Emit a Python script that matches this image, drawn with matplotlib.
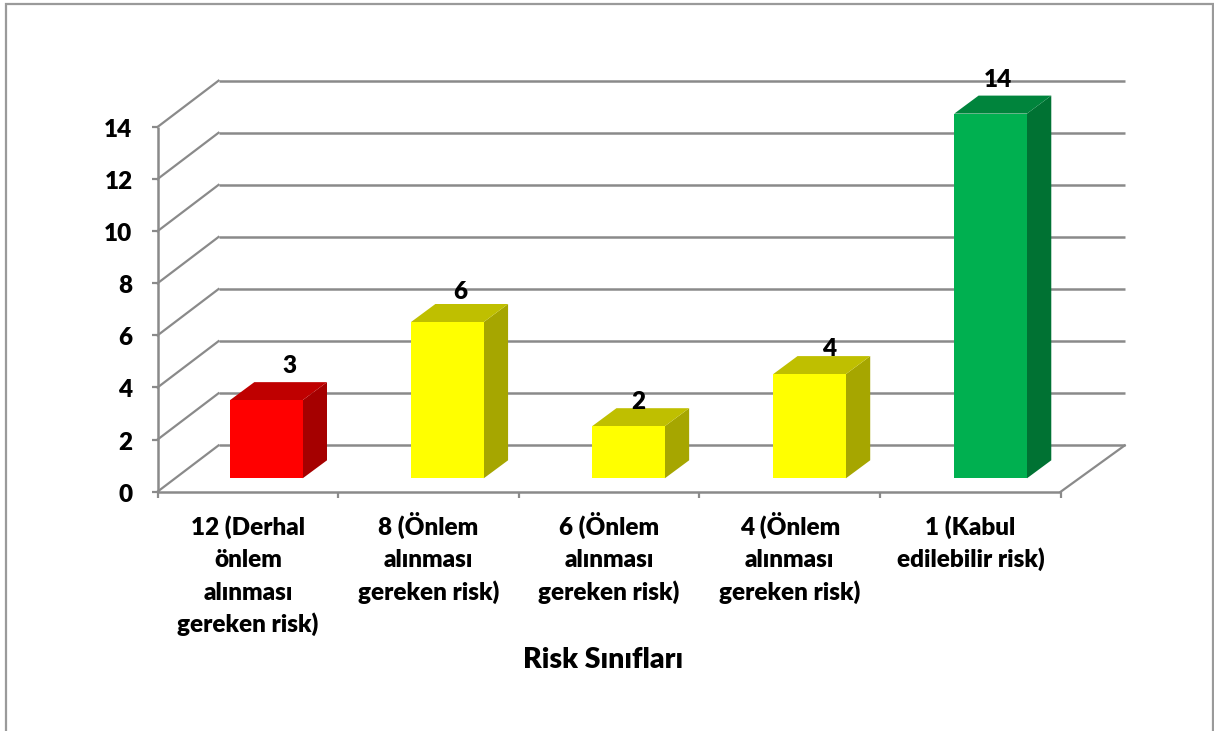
import matplotlib
matplotlib.use('Agg')
import matplotlib.pyplot as plt
from matplotlib.patches import Polygon, Rectangle

plt.rcParams['font.family'] = ['Lato', 'DejaVu Sans']

categories = [['12 (Derhal', 'önlem', 'alınması', 'gereken risk)'],
              ['8 (Önlem', 'alınması', 'gereken risk)'],
              ['6 (Önlem', 'alınması', 'gereken risk)'],
              ['4 (Önlem', 'alınması', 'gereken risk)'],
              ['1 (Kabul', 'edilebilir risk)']]
values = [3, 6, 2, 4, 14]
y_ticks = [0, 2, 4, 6, 8, 10, 12, 14]
x_title = 'Risk Sınıfları'

# (front, top, side) shades for each bar
bar_colors = [('#ff0000', '#bf0000', '#a50000'),
              ('#ffff00', '#bfbf00', '#a6a600'),
              ('#ffff00', '#bfbf00', '#a6a600'),
              ('#ffff00', '#bfbf00', '#a6a600'),
              ('#00b050', '#00843c', '#007233')]

# pixel scale of the plot
W, H = 1214, 731
X0, Y0 = 157.5, 491.7
PX_CAT, PX_VAL = 180.65, 26.05

# 3d look: wall depth and bar depth in data units
WALL_DX, WALL_DY = 61 / PX_CAT, 46.3 / PX_VAL
FLOOR_DX = 64 / PX_CAT
BAR_DX, BAR_DY = 24.3 / PX_CAT, 18 / PX_VAL
BAR_W = 72.7 / PX_CAT
BAR_PITCH = 181.07 / PX_CAT
BAR_LEFT = 72.5 / PX_CAT
BAR_LIFT = 13.4 / PX_VAL

# data label nudges (x in category units, y in value units)
label_dx = [0.13, 0.07, 0.055, 0.11, 0.04]
label_dy = [1.32, 1.17, 0.94, 0.98, 1.29]

GRID = '#8a8a8a'
TXT = '#000000'
FS = 17.5
LINE_STEP = 32.3  # px between category label lines

fig = plt.figure(figsize=(W / 100, H / 100), dpi=100)
ax = fig.add_axes([0, 0, 1, 1])
ax.set_xlim(-X0 / PX_CAT, (W - X0) / PX_CAT)
ax.set_ylim((Y0 - H) / PX_VAL, Y0 / PX_VAL)
ax.axis('off')

# outer chart frame, the bottom edge falls outside the figure
fig.add_artist(Rectangle((6 / W, -0.05), 1206.5 / W, 1.05 - 4 / H, transform=fig.transFigure,
                         fill=False, edgecolor='#9a9a9a', linewidth=1.6))

n = len(categories)

# back wall gridlines, side wall diagonals and left ticks
for t in y_ticks:
    ax.plot([WALL_DX, n + FLOOR_DX], [t + WALL_DY, t + WALL_DY], color=GRID, lw=1.8,
            solid_capstyle='butt', zorder=1)
    ax.plot([0, WALL_DX], [t, t + WALL_DY], color=GRID, lw=1.6, zorder=1)
    ax.plot([-6 / PX_CAT, 0], [t, t], color=GRID, lw=1.6, solid_capstyle='butt', zorder=1)
    ax.text(-25 / PX_CAT, t - 3 / PX_VAL, str(t), ha='right', va='center', fontsize=FS,
            fontweight='heavy', color=TXT, zorder=5)

# front axis lines, floor edge and category ticks
ax.plot([0, 0], [0, y_ticks[-1]], color=GRID, lw=1.8, solid_capstyle='butt', zorder=2)
ax.plot([0, n], [0, 0], color=GRID, lw=1.8, solid_capstyle='butt', zorder=2)
ax.plot([n, n + FLOOR_DX], [0, WALL_DY], color=GRID, lw=1.6, zorder=2)
for i in range(n + 1):
    ax.plot([i, i], [0, -6 / PX_VAL], color=GRID, lw=1.6, solid_capstyle='butt', zorder=2)

# bars
for i, v in enumerate(values):
    left = BAR_LEFT + i * BAR_PITCH
    right = left + BAR_W
    base = BAR_LIFT
    top = base + v
    front, roof, side = bar_colors[i]
    ax.add_patch(Polygon([(right, base), (right + BAR_DX, base + BAR_DY),
                          (right + BAR_DX, top + BAR_DY), (right, top)],
                         facecolor=side, edgecolor='none', zorder=3))
    ax.add_patch(Polygon([(left, top), (right, top), (right + BAR_DX, top + BAR_DY),
                          (left + BAR_DX, top + BAR_DY)],
                         facecolor=roof, edgecolor='none', zorder=3))
    ax.add_patch(Rectangle((left, base), BAR_W, v, facecolor=front, edgecolor='none', zorder=4))
    ax.text(left + BAR_W / 2 + label_dx[i], top + label_dy[i], str(v), ha='center', va='center',
            fontsize=FS, fontweight='heavy', color=TXT, zorder=6)

# category labels, one line at a time so the accents don't move the baselines
for i, lines in enumerate(categories):
    for j, line in enumerate(lines):
        ax.text(i + 0.5, -(535 + j * LINE_STEP - Y0) / PX_VAL, line, ha='center', va='baseline',
                fontsize=FS, fontweight='heavy', color=TXT, zorder=5)

ax.text((603 - X0) / PX_CAT, -(660 - Y0) / PX_VAL, x_title, ha='center', va='center', fontsize=20.5,
        fontweight='heavy', color=TXT, zorder=5)

fig.savefig('out.png', dpi=100, facecolor='white')
